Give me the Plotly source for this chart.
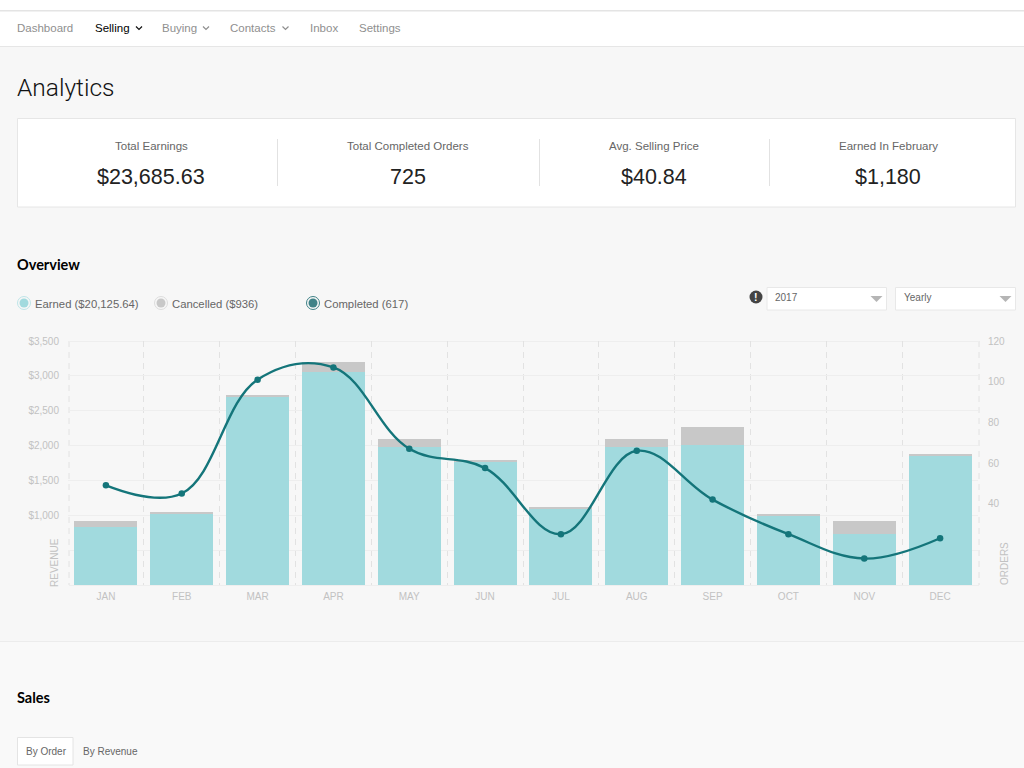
import plotly.graph_objects as go

W = 1024
H = 768

months = ["JAN", "FEB", "MAR", "APR", "MAY", "JUN", "JUL", "AUG", "SEP", "OCT", "NOV", "DEC"]
earned = [830, 1025, 2700, 3060, 1975, 1770, 1100, 1985, 2015, 995, 725, 1855]
cancelled = [85, 20, 20, 140, 125, 30, 15, 115, 255, 20, 200, 15]
completed = [49, 45, 101, 107, 67, 57.5, 25, 66, 42, 25, 13, 23]

revenue_ticks = [0, 500, 1000, 1500, 2000, 2500, 3000, 3500]
revenue_labels = ["", "", "$1,000", "$1,500", "$2,000", "$2,500", "$3,000", "$3,500"]
order_ticks = [40, 60, 80, 100, 120]

nav_items = ["Dashboard", "Selling", "Buying", "Contacts", "Inbox", "Settings"]
stat_titles = ["Total Earnings", "Total Completed Orders", "Avg. Selling Price", "Earned In February"]
stat_values = ["$23,685.63", "725", "$40.84", "$1,180"]
legend_labels = ["Earned ($20,125.64)", "Cancelled ($936)", "Completed (617)"]

TEAL = "#a1dade"
GREY = "#c8c8c8"
DARK = "#14757a"
AXIS = "#c2c2c2"
SANS = "Liberation Sans"


# everything outside the plot is placed in page pixels
def px(x):
    return x / W


def py(y):
    return 1 - y / H


def text(x, y, s, size=11, color="#666666", anchor="left", family=SANS, weight=None, angle=0):
    font = dict(family=family, size=size, color=color)
    if weight:
        font["weight"] = weight
    fig.add_annotation(x=px(x), y=py(y), xref="paper", yref="paper", text=s, showarrow=False,
                       xanchor=anchor, yanchor="middle", font=font, textangle=angle,
                       borderpad=0, borderwidth=0)


def box(x0, y0, x1, y1, fill, line=None, width=1):
    fig.add_shape(type="rect", xref="paper", yref="paper", x0=px(x0), x1=px(x1), y0=py(y0), y1=py(y1),
                  fillcolor=fill, line=dict(color=line or fill, width=width if line else 0), layer="below")


def dot(x, y, r, fill, line=None, width=1):
    fig.add_shape(type="circle", xref="paper", yref="paper", x0=px(x - r), x1=px(x + r),
                  y0=py(y + r), y1=py(y - r), fillcolor=fill,
                  line=dict(color=line or fill, width=width if line else 0), layer="above")


def poly(points, fill=None, color=None, width=1.2):
    path = "M " + " L ".join(f"{px(a):.5f} {py(b):.5f}" for a, b in points)
    if fill:
        path += " Z"
    fig.add_shape(type="path", xref="paper", yref="paper", path=path,
                  fillcolor=fill or "rgba(0,0,0,0)",
                  line=dict(color=color or fill, width=width if color else 0), layer="above")


fig = go.Figure()

fig.add_trace(go.Bar(x=months, y=earned, marker=dict(color=TEAL, line=dict(width=0)), yaxis="y"))
fig.add_trace(go.Bar(x=months, y=cancelled, marker=dict(color=GREY, line=dict(width=0)), yaxis="y"))
fig.add_trace(go.Scatter(x=months, y=completed, yaxis="y2", mode="lines+markers",
                         line=dict(color=DARK, width=2.4, shape="spline", smoothing=1.1),
                         marker=dict(color=DARK, size=6.5)))

fig.update_layout(
    width=W, height=H,
    margin=dict(l=0, r=0, t=0, b=0, autoexpand=False),
    paper_bgcolor="#f7f7f7",
    plot_bgcolor="rgba(0,0,0,0)",
    showlegend=False,
    barmode="stack",
    bargap=0.17,
    font=dict(family=SANS),
    xaxis=dict(domain=[px(68), px(978)], type="category", tickson="boundaries", range=[-0.5, 11.5],
               showgrid=True, gridcolor="#e2e2e2", griddash="6px,5px", gridwidth=1,
               showline=False, zeroline=False, ticklen=0, ticklabelstandoff=4,
               tickfont=dict(size=10, color=AXIS, family=SANS)),
    yaxis=dict(domain=[py(585), py(341)], range=[0, 3500], tickvals=revenue_ticks, ticktext=revenue_labels,
               showgrid=True, gridcolor="#eeeeee", gridwidth=1, zeroline=False, showline=False,
               ticklen=0, ticklabelstandoff=8, tickfont=dict(size=10, color=AXIS, family=SANS)),
    yaxis2=dict(domain=[py(585), py(341)], range=[0, 120], overlaying="y", side="right", tickvals=order_ticks,
                showgrid=False, zeroline=False, showline=False, ticklen=0, ticklabelstandoff=9,
                tickfont=dict(size=10, color=AXIS, family=SANS)),
)

# page background and header strip
box(0, 0, 1024, 47, "#ffffff")
box(0, 10, 1024, 11.5, "#e4e4e4")
box(0, 46, 1024, 47, "#e6e6e6")
box(0, 641, 1024, 768, "#f9f9f9")
box(0, 641, 1024, 642, "#ececec")

# plot frame, the grid leaves out the edges of the range
for x in [69, 979]:
    fig.add_shape(type="line", xref="paper", yref="paper", x0=px(x), x1=px(x), y0=py(341), y1=py(585),
                  line=dict(color="#e2e2e2", width=1, dash="6px,5px"), layer="below")
for y in [341, 585]:
    box(69, y, 979, y + 1, "#eeeeee")

# nav
for s, x in zip(nav_items, [17, 95, 162, 230, 310, 359]):
    selected = s == "Selling"
    text(x, 28, s, size=11.5, color="#000000" if selected else "#8f8f8f")
for x, c in [(139, "#111111"), (206, "#8f8f8f"), (285.5, "#8f8f8f")]:
    poly([(x - 3, 26.5), (x, 29.5), (x + 3, 26.5)], color=c)

text(17, 87, "Analytics", size=24.5, color="#111111", family="Roboto", weight=300)

# stat card
box(17.5, 118.5, 1015.5, 207, "#ffffff", line="#e6e6e6")
for x in [277, 539, 769]:
    box(x, 139, x + 1, 186, "#e2e2e2")
for t, v, x in zip(stat_titles, stat_values, [151, 408, 654, 888]):
    text(x, 146, t, size=11.5, color="#666666", anchor="center")
    text(x, 177, v, size=21.5, color="#222222", anchor="center")

text(17, 264, "Overview", size=14.5, color="#000000", family="Lato", weight=700)
text(17, 697, "Sales", size=14.5, color="#000000", family="Lato", weight=700)

# legend
for s, x, inner, ring in zip(legend_labels, [24, 161, 313], [TEAL, GREY, "#3f8287"], ["#bfe5e8", "#dddddd", "#3f8287"]):
    dot(x, 303, 6.5, "#f7f7f7", line=ring)
    dot(x, 303, 4.5, inner)
    text(x + 10.5, 303.5, s, size=11.3, color="#666666")

# dropdowns
dot(756, 297, 6.5, "#444444")
text(756, 297, "!", size=10.5, color="#ffffff", anchor="center", weight=700)
for x0, x1, s in [(767, 886.5, "2017"), (895.5, 1015.5, "Yearly")]:
    box(x0, 287.5, x1, 310, "#ffffff", line="#e8e8e8")
    text(x0 + 8, 297.5, s, size=10, color="#666666")
    poly([(x1 - 16, 296), (x1 - 4, 296), (x1 - 10, 302)], fill="#b5b5b5")

text(54, 563, "REVENUE", size=10, color=AXIS, anchor="center", angle=-90)
text(1004, 564, "ORDERS", size=10, color=AXIS, anchor="center", angle=-90)

# sales tabs
box(17.5, 737.5, 73, 765, "#ffffff", line="#e4e4e4")
text(26, 751, "By Order", size=10, color="#666666")
text(82.5, 751, "By Revenue", size=10, color="#666666")

fig.write_html("out.html", config={"displayModeBar": False},
               post_script="document.body.style.margin='0';document.documentElement.style.overflow='hidden';")
